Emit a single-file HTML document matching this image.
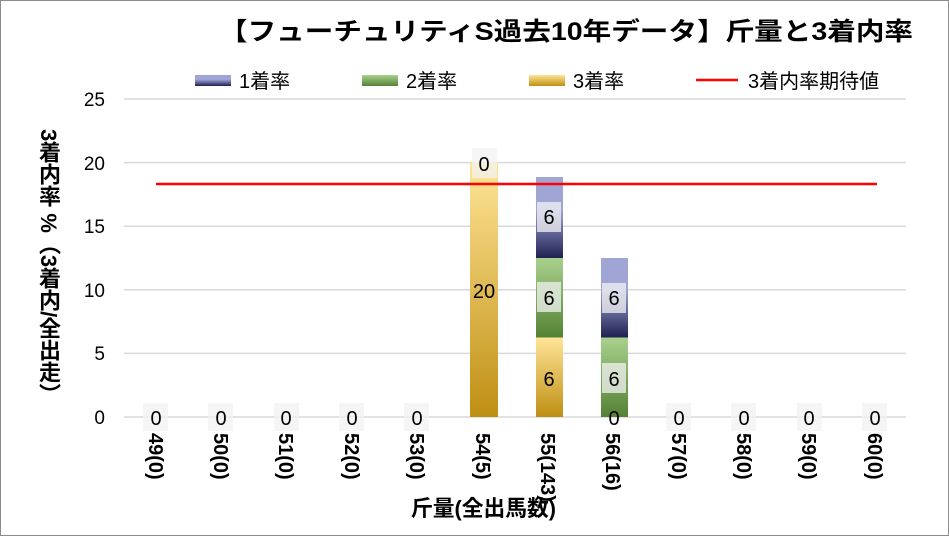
<!DOCTYPE html>
<html><head><meta charset="utf-8"><style>
body{margin:0;background:#fff;font-family:"Liberation Sans","Noto Sans CJK JP",sans-serif;}
#c{position:relative;width:947px;height:534px;border:1px solid #8c8c8c;overflow:hidden;background:#fff}
.t{position:absolute}
</style></head><body><div id="c">
<svg width="947" height="534" style="position:absolute;left:0;top:0" font-family="Liberation Sans, Noto Sans CJK JP, sans-serif">
<defs>
<linearGradient id="g3" x1="0" y1="0" x2="0" y2="1"><stop offset="0" stop-color="#ffe597"/><stop offset="1" stop-color="#bf8f13"/></linearGradient>
<linearGradient id="g2" x1="0" y1="0" x2="0" y2="1"><stop offset="0" stop-color="#a9d18e"/><stop offset="1" stop-color="#548235"/></linearGradient>
<linearGradient id="g1" x1="0" y1="0" x2="0" y2="1"><stop offset="0" stop-color="#9fa6d6"/><stop offset="0.4" stop-color="#9fa6d6"/><stop offset="1" stop-color="#1f2050"/></linearGradient>
</defs>
<g stroke="#d9d9d9" stroke-width="1.5">
<line x1="123" x2="905" y1="98" y2="98"/><line x1="123" x2="905" y1="161.6" y2="161.6"/><line x1="123" x2="905" y1="225.2" y2="225.2"/><line x1="123" x2="905" y1="288.8" y2="288.8"/><line x1="123" x2="905" y1="352.4" y2="352.4"/><line x1="123" x2="905" y1="416" y2="416"/>
</g>
<g font-size="19" fill="#000" text-anchor="end">
<text x="104" y="105">25</text><text x="104" y="169">20</text><text x="104" y="232">15</text><text x="104" y="296">10</text><text x="104" y="359">5</text><text x="104" y="423">0</text>
</g>
<rect x="469" y="161.6" width="28" height="254.4" fill="url(#g3)"/>
<rect x="535" y="336.5" width="27" height="79.5" fill="url(#g3)"/>
<rect x="535" y="257" width="27" height="79.5" fill="url(#g2)"/>
<rect x="535" y="176" width="27" height="81" fill="url(#g1)"/>
<rect x="600" y="336.5" width="27" height="79.5" fill="url(#g2)"/>
<rect x="600" y="257" width="27" height="79.5" fill="url(#g1)"/>
<line x1="155" x2="876" y1="183" y2="183" stroke="#f00" stroke-width="2.5"/>
<g fill="#f2f2f2" fill-opacity="0.75">
<rect x="142" y="402" width="25" height="28"/><rect x="207" y="402" width="25" height="28"/><rect x="273" y="402" width="25" height="28"/><rect x="338" y="402" width="25" height="28"/><rect x="403" y="402" width="25" height="28"/>
<rect x="665" y="402" width="25" height="28"/><rect x="730" y="402" width="25" height="28"/><rect x="796" y="402" width="25" height="28"/><rect x="861" y="402" width="25" height="28"/>
<rect x="471" y="147" width="25" height="30"/>
<rect x="536" y="201" width="24" height="30"/><rect x="536" y="281" width="24" height="30"/>
<rect x="601" y="282" width="24" height="30"/><rect x="601" y="362" width="24" height="30"/>
</g>
<g font-size="20" text-anchor="middle" fill="#000">
<text x="155" y="424">0</text><text x="220" y="424">0</text><text x="285" y="424">0</text><text x="351" y="424">0</text><text x="416" y="424">0</text>
<text x="678" y="424">0</text><text x="743" y="424">0</text><text x="808" y="424">0</text><text x="874" y="424">0</text>
<text x="483" y="170">0</text><text x="483" y="297">20</text><text x="548" y="385">6</text>
<text x="548" y="223">6</text><text x="548" y="304">6</text><text x="613" y="304">6</text><text x="613" y="385">6</text><text x="613" y="424">0</text>
</g>
<g font-size="20" font-weight="bold" fill="#000">
<text transform="translate(148,432) rotate(90)">49(0)</text>
<text transform="translate(213,432) rotate(90)">50(0)</text>
<text transform="translate(278,432) rotate(90)">51(0)</text>
<text transform="translate(344,432) rotate(90)">52(0)</text>
<text transform="translate(409,432) rotate(90)">53(0)</text>
<text transform="translate(475,432) rotate(90)">54(5)</text>
<text transform="translate(540,432) rotate(90)">55(143)</text>
<text transform="translate(605,432) rotate(90)">56(16)</text>
<text transform="translate(671,432) rotate(90)">57(0)</text>
<text transform="translate(736,432) rotate(90)">58(0)</text>
<text transform="translate(801,432) rotate(90)">59(0)</text>
<text transform="translate(867,432) rotate(90)">60(0)</text>
</g>
<text x="410" y="515" font-size="22" font-weight="bold" textLength="145" lengthAdjust="spacingAndGlyphs">斤量(全出馬数)</text>
<text x="218" y="39" font-size="25" font-weight="bold" textLength="694" lengthAdjust="spacingAndGlyphs">【フューチュリティS過去10年データ】斤量と3着内率</text>
<rect x="194" y="74" width="36" height="11" fill="url(#g1)"/><text x="238" y="87" font-size="20">1着率</text>
<rect x="361" y="74" width="36" height="11" fill="url(#g2)"/><text x="405" y="87" font-size="20">2着率</text>
<rect x="528" y="74" width="36" height="11" fill="url(#g3)"/><text x="572" y="87" font-size="20">3着率</text>
<line x1="695" x2="737" y1="79" y2="79" stroke="#f00" stroke-width="2.5"/><text x="747" y="87" font-size="20">3着内率期待値</text>
</svg>
<div class="t" style="left:34px;top:128px;writing-mode:vertical-rl;font-size:22px;font-weight:bold;line-height:26px;white-space:nowrap">3着内率 %（3着内/全出走）</div>
</div></body></html>
